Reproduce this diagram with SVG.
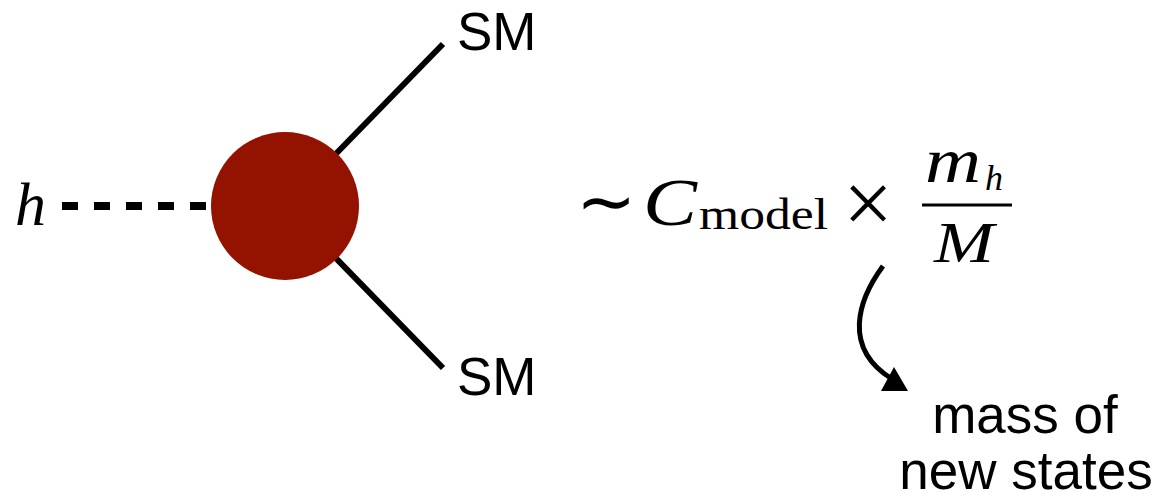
<svg xmlns="http://www.w3.org/2000/svg" width="1156" height="500" viewBox="0 0 1156 500">
<style>
.sans{font-family:"Liberation Sans",Arial,sans-serif;font-size:53px;fill:#000}
.math{font-family:"Liberation Serif","Times New Roman",serif;fill:#000}
.it{font-style:italic}
.line{stroke:#000;fill:none}
</style>
<rect width="1156" height="500" fill="#fff"/>
<g id="connectors">
<line class="line" x1="62" y1="206" x2="207" y2="206" stroke-width="8" stroke-dasharray="16 16"/>
<line class="line" x1="285" y1="206" x2="443" y2="44" stroke-width="6"/>
<line class="line" x1="285" y1="206" x2="443" y2="368" stroke-width="6"/>
<path class="line" d="M883,266 C858,300 842,348 892,379" stroke-width="5"/>
<polygon points="908,391 881,391 894,367" fill="#000"/>
</g>
<g id="vertex">
<circle cx="285" cy="206" r="74" fill="#931200"/>
</g>
<g id="h-label">
<text class="math it" x="15" y="225" font-size="62">h</text>
</g>
<g id="sm-top">
<text class="sans" x="457" y="50">SM</text>
</g>
<g id="sm-bottom">
<text class="sans" x="457" y="395">SM</text>
</g>
<g id="formula">
<text class="math" x="576" y="226" font-size="72" font-family="'DejaVu Serif',serif">∼</text>
<text class="math it" x="643" y="225" font-size="68" textLength="54" lengthAdjust="spacingAndGlyphs">C</text>
<text class="math" x="699" y="229" font-size="44" textLength="129" lengthAdjust="spacingAndGlyphs">model</text>
<text class="math" x="868" y="233" font-size="88" text-anchor="middle">×</text>
<text class="math it" x="925" y="182" font-size="64" textLength="56" lengthAdjust="spacingAndGlyphs">m</text>
<text class="math it" x="985" y="190" font-size="36">h</text>
<line x1="922" y1="205" x2="1012" y2="205" stroke="#000" stroke-width="3"/>
<text class="math it" x="934" y="262" font-size="56" textLength="60" lengthAdjust="spacingAndGlyphs">M</text>
</g>
<g id="note">
<text class="sans" x="1025" y="433" text-anchor="middle">mass of</text>
<text class="sans" x="1026" y="489" text-anchor="middle">new states</text>
</g>
</svg>
